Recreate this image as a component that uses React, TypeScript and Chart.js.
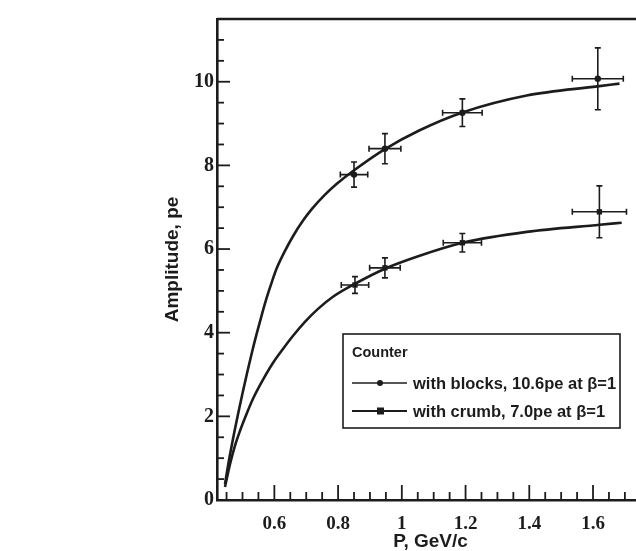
import React, { useEffect, useRef } from "react";
import { Chart, registerables } from "chart.js";

Chart.register(...registerables);

const INK = "#1c1c1c";
const SANS = "'Liberation Sans', Arial, sans-serif";
const SERIF = "'Liberation Serif', 'Times New Roman', serif";

// Measured points, "with blocks"
const blocksP = [0.85, 0.947, 1.19, 1.615];
const blocksAmp = [7.78, 8.4, 9.26, 10.07];
const blocksPErr = [0.043, 0.05, 0.062, 0.08];
const blocksAmpErr = [0.3, 0.36, 0.33, 0.74];

// Measured points, "with crumb"
const crumbP = [0.853, 0.947, 1.19, 1.62];
const crumbAmp = [5.14, 5.55, 6.15, 6.89];
const crumbPErr = [0.043, 0.048, 0.06, 0.085];
const crumbAmpErr = [0.2, 0.24, 0.22, 0.62];

// Fit curves
const blocksFitP = [0.445, 0.455, 0.477, 0.502, 0.53, 0.545, 0.561, 0.577, 0.592, 0.608, 0.633, 0.658, 0.69, 0.718, 0.759, 0.796, 0.846, 0.947, 1.056, 1.188, 1.392, 1.614, 1.683];
const blocksFitAmp = [0.38, 0.84, 1.72, 2.62, 3.54, 3.99, 4.44, 4.86, 5.21, 5.55, 5.95, 6.3, 6.68, 6.96, 7.3, 7.56, 7.86, 8.39, 8.84, 9.26, 9.67, 9.89, 9.955];
const crumbFitP = [0.445, 0.461, 0.476, 0.492, 0.514, 0.533, 0.564, 0.596, 0.627, 0.658, 0.696, 0.737, 0.784, 0.853, 0.947, 1.056, 1.191, 1.392, 1.621, 1.69];
const crumbFitAmp = [0.31, 0.86, 1.29, 1.65, 2.08, 2.42, 2.87, 3.28, 3.61, 3.92, 4.26, 4.57, 4.86, 5.17, 5.53, 5.84, 6.15, 6.41, 6.58, 6.63];

// Axis ticks
const xTickLabels = [0.6, 0.8, 1.0, 1.2, 1.4, 1.6];
const yTickLabels = [0, 2, 4, 6, 8, 10];
const xMinorStep = 0.05;
const yMinorStep = 0.5;
const xMin = 0.42;
const xMax = 1.76;
const yMin = 0;
const yMax = 11.5;

const legendTitle = "Counter";
const legendBlocks = "with blocks, 10.6pe at \u03b2=1";
const legendCrumb = "with crumb, 7.0pe at \u03b2=1";

const zip = (xs: number[], ys: number[]) => xs.map((x, i) => ({ x, y: ys[i] }));

const framePlugin = {
  id: "frame",
  afterDraw(chart: any) {
    const { ctx, chartArea, scales } = chart;
    const xs = scales.x;
    const ys = scales.y;
    ctx.save();
    ctx.strokeStyle = INK;
    ctx.lineWidth = 2.6;
    ctx.beginPath();
    ctx.moveTo(chartArea.left, chartArea.top);
    ctx.lineTo(chartArea.right, chartArea.top);
    ctx.stroke();
    ctx.lineWidth = 1.8;
    for (let v = 0.45; v <= xMax + 1e-9; v += xMinorStep) {
      const major = xTickLabels.some((t) => Math.abs(t - v) < 1e-6);
      const px = xs.getPixelForValue(v);
      const len = major ? 15 : 8;
      ctx.beginPath();
      ctx.moveTo(px, chartArea.bottom);
      ctx.lineTo(px, chartArea.bottom - len);
      ctx.stroke();
    }
    for (let v = yMin; v <= yMax + 1e-9; v += yMinorStep) {
      const major = yTickLabels.some((t) => Math.abs(t - v) < 1e-6);
      const py = ys.getPixelForValue(v);
      const len = major ? 13 : 7;
      ctx.beginPath();
      ctx.moveTo(chartArea.left, py);
      ctx.lineTo(chartArea.left + len, py);
      ctx.stroke();
    }
    ctx.restore();
  },
};

const errorBarPlugin = {
  id: "errorBars",
  afterDatasetsDraw(chart: any) {
    const { ctx, scales } = chart;
    const xs = scales.x;
    const ys = scales.y;
    ctx.save();
    ctx.strokeStyle = INK;
    ctx.lineWidth = 1.6;
    chart.data.datasets.forEach((ds: any) => {
      if (!ds.errX) return;
      ds.data.forEach((pt: any, i: number) => {
        const cx = xs.getPixelForValue(pt.x);
        const cy = ys.getPixelForValue(pt.y);
        const x0 = xs.getPixelForValue(pt.x - ds.errX[i]);
        const x1 = xs.getPixelForValue(pt.x + ds.errX[i]);
        const y0 = ys.getPixelForValue(pt.y - ds.errY[i]);
        const y1 = ys.getPixelForValue(pt.y + ds.errY[i]);
        const c = 3;
        ctx.beginPath();
        ctx.moveTo(x0, cy);
        ctx.lineTo(x1, cy);
        ctx.moveTo(x0, cy - c);
        ctx.lineTo(x0, cy + c);
        ctx.moveTo(x1, cy - c);
        ctx.lineTo(x1, cy + c);
        ctx.moveTo(cx, y0);
        ctx.lineTo(cx, y1);
        ctx.moveTo(cx - c, y0);
        ctx.lineTo(cx + c, y0);
        ctx.moveTo(cx - c, y1);
        ctx.lineTo(cx + c, y1);
        ctx.stroke();
      });
    });
    ctx.restore();
  },
};

const legendPlugin = {
  id: "boxLegend",
  afterDraw(chart: any) {
    const { ctx } = chart;
    const bx = 343;
    const by = 334;
    const bw = 277;
    const bh = 94;
    ctx.save();
    ctx.fillStyle = "#ffffff";
    ctx.fillRect(bx, by, bw, bh);
    ctx.strokeStyle = INK;
    ctx.lineWidth = 1.6;
    ctx.strokeRect(bx, by, bw, bh);
    ctx.fillStyle = INK;
    ctx.textBaseline = "middle";
    ctx.textAlign = "left";
    ctx.font = `bold 14.5px ${SANS}`;
    ctx.fillText(legendTitle, bx + 9, by + 19);
    ctx.font = `bold 16.5px ${SANS}`;
    const rows = [
      { y: by + 49, text: legendBlocks, marker: "circle", lw: 1.5 },
      { y: by + 77, text: legendCrumb, marker: "rect", lw: 2 },
    ];
    rows.forEach((r) => {
      ctx.lineWidth = r.lw;
      ctx.beginPath();
      ctx.moveTo(bx + 9, r.y);
      ctx.lineTo(bx + 64, r.y);
      ctx.stroke();
      if (r.marker === "circle") {
        ctx.beginPath();
        ctx.arc(bx + 37, r.y, 3, 0, Math.PI * 2);
        ctx.fill();
      } else {
        ctx.fillRect(bx + 34, r.y - 3.5, 7, 7);
      }
      ctx.fillText(r.text, bx + 70, r.y + 1);
    });
    ctx.restore();
  },
};

export default function App() {
  const ref = useRef<HTMLCanvasElement | null>(null);

  useEffect(() => {
    if (!ref.current) return;
    const chart = new Chart(ref.current, {
      type: "scatter",
      data: {
        datasets: [
          {
            label: "blocks fit",
            data: zip(blocksFitP, blocksFitAmp),
            showLine: true,
            borderColor: INK,
            borderWidth: 2.6,
            pointRadius: 0,
            cubicInterpolationMode: "monotone",
            fill: false,
          },
          {
            label: "crumb fit",
            data: zip(crumbFitP, crumbFitAmp),
            showLine: true,
            borderColor: INK,
            borderWidth: 2.6,
            pointRadius: 0,
            cubicInterpolationMode: "monotone",
            fill: false,
          },
          {
            label: "with blocks",
            data: zip(blocksP, blocksAmp),
            showLine: false,
            pointStyle: "circle",
            pointRadius: 3.2,
            backgroundColor: INK,
            borderColor: INK,
            borderWidth: 0,
            errX: blocksPErr,
            errY: blocksAmpErr,
          } as any,
          {
            label: "with crumb",
            data: zip(crumbP, crumbAmp),
            showLine: false,
            pointStyle: "rect",
            pointRadius: 3.8,
            backgroundColor: INK,
            borderColor: INK,
            borderWidth: 0,
            errX: crumbPErr,
            errY: crumbAmpErr,
          } as any,
        ],
      },
      options: {
        responsive: false,
        animation: false,
        layout: { padding: { top: 19, right: 3, left: 0, bottom: 0 } },
        plugins: { legend: { display: false }, tooltip: { enabled: false } },
        scales: {
          x: {
            type: "linear",
            min: xMin,
            max: xMax,
            afterBuildTicks: (s: any) => {
              s.ticks = xTickLabels.map((v) => ({ value: v }));
            },
            afterFit: (s: any) => {
              s.height = 51;
            },
            grid: { display: false, drawTicks: false },
            border: { display: true, color: INK, width: 2.6 },
            ticks: {
              autoSkip: false,
              maxRotation: 0,
              padding: 13,
              color: INK,
              font: { family: SERIF, weight: "bold", size: 19 },
              callback: (v: any) => String(Math.round(Number(v) * 10) / 10),
            },
            title: {
              display: true,
              text: "P, GeV/c",
              color: INK,
              font: { family: SANS, weight: "bold", size: 19, lineHeight: 1 },
              padding: { top: 0, bottom: 0 },
            },
          },
          y: {
            type: "linear",
            min: yMin,
            max: yMax,
            afterBuildTicks: (s: any) => {
              s.ticks = yTickLabels.map((v) => ({ value: v }));
            },
            afterFit: (s: any) => {
              s.width = 217;
            },
            grid: { display: false, drawTicks: false },
            border: { display: true, color: INK, width: 2.6 },
            ticks: {
              autoSkip: false,
              padding: 3,
              color: INK,
              font: { family: SERIF, weight: "bold", size: 20 },
              callback: (v: any) => String(v),
            },
            title: {
              display: true,
              text: "Amplitude, pe",
              color: INK,
              font: { family: SANS, weight: "bold", size: 19, lineHeight: 1 },
              padding: { top: 163, bottom: 0 },
            },
          },
        },
      } as any,
      plugins: [errorBarPlugin, framePlugin, legendPlugin],
    });
    return () => chart.destroy();
  }, []);

  return (
    <div
      style={{
        position: "fixed",
        left: 0,
        top: 0,
        width: 636,
        height: 551,
        overflow: "hidden",
        background: "#ffffff",
      }}
    >
      <canvas ref={ref} width={648} height={551} style={{ display: "block", width: 648, height: 551 }} />
    </div>
  );
}
